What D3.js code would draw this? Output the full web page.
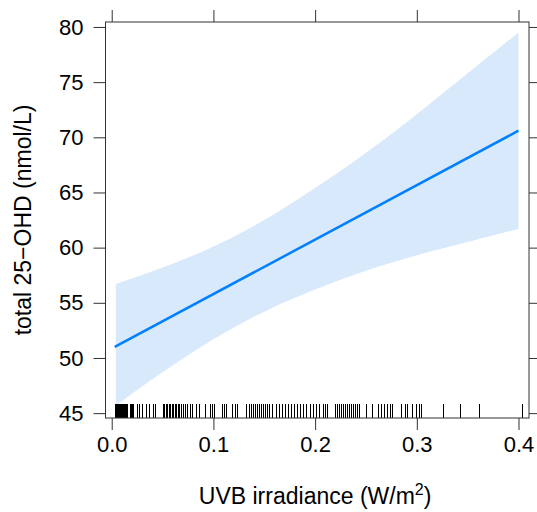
<!DOCTYPE html>
<html>
<head>
<meta charset="utf-8">
<script src="https://cdn.jsdelivr.net/npm/d3@7"></script>
<style>
  body { margin: 0; background: #fff; }
  text { font-family: "Liberation Sans", Arial, sans-serif; fill: #000; }
</style>
</head>
<body>
<script>
const W = 537, H = 512;

// fitted line (end points) and confidence band
const fitX = [0.003, 0.4];
const fitY = [51.0, 70.6];
const bandX = [0.004, 0.05, 0.1, 0.15, 0.2, 0.25, 0.3, 0.35, 0.4];
const bandLo = [45.7, 48.7, 51.7, 54.2, 56.2, 57.9, 59.3, 60.5, 61.7];
const bandHi = [56.7, 58.2, 60.1, 62.5, 65.4, 68.6, 72.1, 75.8, 79.5];

// rug of observed UVB values
const rugX = [0.004,0.005,0.006,0.007,0.008,0.009,0.010,0.011,0.012,0.013,0.014,0.015,0.016,0.018,0.019,0.020,0.021,
  0.025,0.027,0.030,0.034,0.037,0.041,0.043,
  0.051,0.052,0.054,0.055,0.057,0.058,0.060,0.061,0.063,0.064,0.066,0.067,
  0.069,0.071,0.073,0.075,0.077,0.079,0.083,0.086,0.092,0.097,0.099,0.101,
  0.109,0.111,0.113,0.119,0.122,0.124,
  0.133,0.135,0.137,0.139,0.141,0.143,0.145,0.147,0.149,0.151,0.153,0.155,0.158,
  0.162,0.165,0.168,0.171,0.174,0.177,0.180,0.183,0.186,0.189,0.192,0.195,0.198,0.201,0.204,
  0.208,0.210,0.212,0.220,0.222,0.224,0.226,0.228,0.230,0.232,0.234,0.236,0.238,0.240,0.242,
  0.244,0.251,0.256,0.262,0.265,0.268,0.271,0.274,0.276,
  0.285,0.289,0.291,0.296,0.300,0.303,0.305,0.326,0.343,0.362,0.404];

const xTicks = [0, 0.1, 0.2, 0.3, 0.4];
const yTicks = [45, 50, 55, 60, 65, 70, 75, 80];

const mLeft = 105.5, mRight = 529, mTop = 22, mBottom = 418;

const x = d3.scaleLinear().domain([-0.0061, 0.4103]).range([mLeft, mRight]);
const y = d3.scaleLinear().domain([44.56, 80.45]).range([mBottom, mTop]);

const svg = d3.select("body").append("svg")
  .attr("width", W).attr("height", H);

// band
const band = bandX.map((d, i) => ({ x: d, lo: bandLo[i], hi: bandHi[i] }));
svg.append("path")
  .datum(band)
  .attr("fill", "#d9e9fc")
  .attr("d", d3.area().x(d => x(d.x)).y0(d => y(d.lo)).y1(d => y(d.hi)).curve(d3.curveMonotoneX));

// fitted line
svg.append("path")
  .datum(fitX.map((d, i) => [d, fitY[i]]))
  .attr("fill", "none")
  .attr("stroke", "#0080ff")
  .attr("stroke-width", 2.5)
  .attr("d", d3.line().x(d => x(d[0])).y(d => y(d[1])));

// rug
svg.append("g").selectAll("line")
  .data(rugX)
  .enter().append("line")
  .attr("x1", d => x(d)).attr("x2", d => x(d))
  .attr("y1", mBottom).attr("y2", mBottom - 14)
  .attr("stroke", "#000").attr("stroke-width", 1)
  .attr("shape-rendering", "crispEdges");

// box
svg.append("rect")
  .attr("x", mLeft).attr("y", mTop)
  .attr("width", mRight - mLeft).attr("height", mBottom - mTop)
  .attr("fill", "none").attr("stroke", "#333").attr("stroke-width", 1);

// axes
const tickStyle = g => {
  g.select(".domain").remove();
  g.selectAll(".tick line").attr("stroke", "#333");
  g.selectAll(".tick text").style("font-size", "22px").attr("fill", "#000");
};

svg.append("g")
  .attr("transform", `translate(0,${mBottom})`)
  .call(d3.axisBottom(x).tickValues(xTicks).tickFormat(d3.format(".1f")).tickSize(12).tickPadding(6))
  .call(tickStyle);

svg.append("g")
  .attr("transform", `translate(0,${mTop})`)
  .call(d3.axisTop(x).tickValues(xTicks).tickFormat("").tickSize(12))
  .call(tickStyle);

svg.append("g")
  .attr("transform", `translate(${mLeft},0)`)
  .call(d3.axisLeft(y).tickValues(yTicks).tickFormat(d3.format("d")).tickSize(12).tickPadding(10))
  .call(tickStyle);

svg.append("g")
  .attr("transform", `translate(${mRight},0)`)
  .call(d3.axisRight(y).tickValues(yTicks).tickFormat("").tickSize(8))
  .call(tickStyle);

// titles
const xt = svg.append("text")
  .attr("x", (x(0) + x(0.4)) / 2).attr("y", 504)
  .attr("text-anchor", "middle")
  .style("font-size", "23px");
xt.append("tspan").text("UVB irradiance (W/m");
xt.append("tspan").attr("dy", -9).style("font-size", "16px").text("2");
xt.append("tspan").attr("dy", 9).text(")");

svg.append("text")
  .attr("transform", `translate(31,${(mTop + mBottom) / 2}) rotate(-90)`)
  .attr("text-anchor", "middle")
  .style("font-size", "23px")
  .text("total 25\u2212OHD (nmol/L)");
</script>
</body>
</html>
